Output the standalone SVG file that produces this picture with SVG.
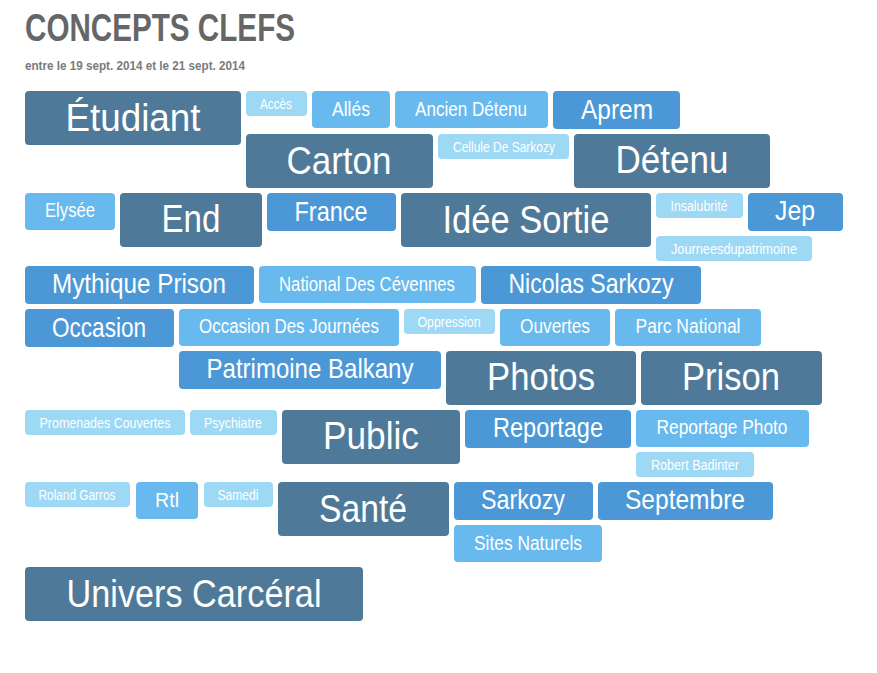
<svg xmlns="http://www.w3.org/2000/svg" width="877" height="673" viewBox="0 0 877 673">
<style>
.bg{fill:#ffffff}
.d rect{fill:#4e7999}
.m rect{fill:#4c98d7}
.l rect{fill:#68b9ee}
.v rect{fill:#9dd8f5}
text{font-family:"Liberation Sans",Arial,sans-serif;fill:#ffffff;text-anchor:middle}
.d text{font-size:39px}
.m text{font-size:28px}
.l text{font-size:20px}
.v text{font-size:14px}
.title{fill:#666666;text-anchor:start;font-size:38px;font-weight:bold}
.sub{fill:#7a7a7a;text-anchor:start;font-size:13px;font-weight:bold}
</style>
<rect class="bg" x="0" y="0" width="877" height="673"/>
<text class="title" x="25" y="41" textLength="270" lengthAdjust="spacingAndGlyphs">CONCEPTS CLEFS</text>
<text class="sub" x="25" y="70" textLength="220" lengthAdjust="spacingAndGlyphs">entre le 19 sept. 2014 et le 21 sept. 2014</text>

<g id="etudiant" class="d"><rect x="25" y="91" width="216" height="54" rx="4"/><text x="133" y="131" textLength="135" lengthAdjust="spacingAndGlyphs">Étudiant</text></g>
<g id="acces" class="v"><rect x="246" y="91" width="61" height="25" rx="4"/><text x="276" y="109" textLength="32" lengthAdjust="spacingAndGlyphs">Accès</text></g>
<g id="alles" class="l"><rect x="312" y="91" width="78" height="37" rx="4"/><text x="351" y="116" textLength="38" lengthAdjust="spacingAndGlyphs">Allés</text></g>
<g id="ancien-detenu" class="l"><rect x="395" y="91" width="153" height="37" rx="4"/><text x="471" y="116" textLength="112" lengthAdjust="spacingAndGlyphs">Ancien Détenu</text></g>
<g id="aprem" class="m"><rect x="553" y="91" width="127" height="38" rx="4"/><text x="617" y="119" textLength="72" lengthAdjust="spacingAndGlyphs">Aprem</text></g>

<g id="carton" class="d"><rect x="246" y="134" width="187" height="54" rx="4"/><text x="339" y="174" textLength="105" lengthAdjust="spacingAndGlyphs">Carton</text></g>
<g id="cellule-de-sarkozy" class="v"><rect x="438" y="134" width="131" height="25" rx="4"/><text x="504" y="152" textLength="102" lengthAdjust="spacingAndGlyphs">Cellule De Sarkozy</text></g>
<g id="detenu" class="d"><rect x="574" y="134" width="196" height="54" rx="4"/><text x="672" y="173" textLength="113" lengthAdjust="spacingAndGlyphs">Détenu</text></g>

<g id="elysee" class="l"><rect x="25" y="193" width="90" height="37" rx="4"/><text x="70" y="217" textLength="50" lengthAdjust="spacingAndGlyphs">Elysée</text></g>
<g id="end" class="d"><rect x="120" y="193" width="142" height="54" rx="4"/><text x="191" y="232" textLength="59" lengthAdjust="spacingAndGlyphs">End</text></g>
<g id="france" class="m"><rect x="267" y="193" width="129" height="38" rx="4"/><text x="331" y="221" textLength="73" lengthAdjust="spacingAndGlyphs">France</text></g>
<g id="idee-sortie" class="d"><rect x="401" y="193" width="250" height="54" rx="4"/><text x="526" y="233" textLength="167" lengthAdjust="spacingAndGlyphs">Idée Sortie</text></g>
<g id="insalubrite" class="v"><rect x="656" y="193" width="87" height="25" rx="4"/><text x="699" y="211" textLength="57" lengthAdjust="spacingAndGlyphs">Insalubrité</text></g>
<g id="jep" class="m"><rect x="748" y="193" width="95" height="38" rx="4"/><text x="795" y="220" textLength="40" lengthAdjust="spacingAndGlyphs">Jep</text></g>
<g id="journeesdupatrimoine" class="v"><rect x="656" y="236" width="156" height="25" rx="4"/><text x="734" y="254" textLength="126" lengthAdjust="spacingAndGlyphs">Journeesdupatrimoine</text></g>

<g id="mythique-prison" class="m"><rect x="25" y="266" width="229" height="38" rx="4"/><text x="139" y="293" textLength="174" lengthAdjust="spacingAndGlyphs">Mythique Prison</text></g>
<g id="national-des-cevennes" class="l"><rect x="259" y="266" width="217" height="37" rx="4"/><text x="367" y="291" textLength="176" lengthAdjust="spacingAndGlyphs">National Des Cévennes</text></g>
<g id="nicolas-sarkozy" class="m"><rect x="481" y="266" width="220" height="38" rx="4"/><text x="591" y="293" textLength="165" lengthAdjust="spacingAndGlyphs">Nicolas Sarkozy</text></g>

<g id="occasion" class="m"><rect x="25" y="309" width="149" height="38" rx="4"/><text x="99" y="337" textLength="94" lengthAdjust="spacingAndGlyphs">Occasion</text></g>
<g id="occasion-des-journees" class="l"><rect x="179" y="309" width="220" height="37" rx="4"/><text x="289" y="333" textLength="180" lengthAdjust="spacingAndGlyphs">Occasion Des Journées</text></g>
<g id="oppression" class="v"><rect x="404" y="309" width="91" height="25" rx="4"/><text x="449" y="327" textLength="63" lengthAdjust="spacingAndGlyphs">Oppression</text></g>
<g id="ouvertes" class="l"><rect x="500" y="309" width="110" height="37" rx="4"/><text x="555" y="333" textLength="70" lengthAdjust="spacingAndGlyphs">Ouvertes</text></g>
<g id="parc-national" class="l"><rect x="615" y="309" width="146" height="37" rx="4"/><text x="688" y="333" textLength="105" lengthAdjust="spacingAndGlyphs">Parc National</text></g>

<g id="patrimoine-balkany" class="m"><rect x="179" y="351" width="262" height="38" rx="4"/><text x="310" y="378" textLength="207" lengthAdjust="spacingAndGlyphs">Patrimoine Balkany</text></g>
<g id="photos" class="d"><rect x="446" y="351" width="190" height="54" rx="4"/><text x="541" y="390" textLength="108" lengthAdjust="spacingAndGlyphs">Photos</text></g>
<g id="prison" class="d"><rect x="641" y="351" width="181" height="54" rx="4"/><text x="731" y="390" textLength="98" lengthAdjust="spacingAndGlyphs">Prison</text></g>

<g id="promenades-couvertes" class="v"><rect x="25" y="410" width="160" height="25" rx="4"/><text x="105" y="428" textLength="131" lengthAdjust="spacingAndGlyphs">Promenades Couvertes</text></g>
<g id="psychiatre" class="v"><rect x="190" y="410" width="87" height="25" rx="4"/><text x="233" y="428" textLength="58" lengthAdjust="spacingAndGlyphs">Psychiatre</text></g>
<g id="public" class="d"><rect x="282" y="410" width="178" height="54" rx="4"/><text x="371" y="449" textLength="96" lengthAdjust="spacingAndGlyphs">Public</text></g>
<g id="reportage" class="m"><rect x="465" y="410" width="166" height="38" rx="4"/><text x="548" y="437" textLength="110" lengthAdjust="spacingAndGlyphs">Reportage</text></g>
<g id="reportage-photo" class="l"><rect x="636" y="410" width="173" height="37" rx="4"/><text x="722" y="434" textLength="131" lengthAdjust="spacingAndGlyphs">Reportage Photo</text></g>
<g id="robert-badinter" class="v"><rect x="636" y="452" width="118" height="25" rx="4"/><text x="695" y="470" textLength="88" lengthAdjust="spacingAndGlyphs">Robert Badinter</text></g>

<g id="roland-garros" class="v"><rect x="25" y="482" width="105" height="25" rx="4"/><text x="77" y="500" textLength="77" lengthAdjust="spacingAndGlyphs">Roland Garros</text></g>
<g id="rtl" class="l"><rect x="136" y="482" width="62" height="37" rx="4"/><text x="167" y="507" textLength="24" lengthAdjust="spacingAndGlyphs">Rtl</text></g>
<g id="samedi" class="v"><rect x="204" y="482" width="69" height="25" rx="4"/><text x="238" y="500" textLength="41" lengthAdjust="spacingAndGlyphs">Samedi</text></g>
<g id="sante" class="d"><rect x="278" y="482" width="171" height="54" rx="4"/><text x="363" y="522" textLength="88" lengthAdjust="spacingAndGlyphs">Santé</text></g>
<g id="sarkozy" class="m"><rect x="454" y="482" width="139" height="38" rx="4"/><text x="523" y="509" textLength="84" lengthAdjust="spacingAndGlyphs">Sarkozy</text></g>
<g id="septembre" class="m"><rect x="598" y="482" width="175" height="38" rx="4"/><text x="685" y="509" textLength="120" lengthAdjust="spacingAndGlyphs">Septembre</text></g>
<g id="sites-naturels" class="l"><rect x="454" y="525" width="148" height="37" rx="4"/><text x="528" y="550" textLength="108" lengthAdjust="spacingAndGlyphs">Sites Naturels</text></g>

<g id="univers-carceral" class="d"><rect x="25" y="567" width="338" height="54" rx="4"/><text x="194" y="607" textLength="255" lengthAdjust="spacingAndGlyphs">Univers Carcéral</text></g>

<g id="connectors"></g>
</svg>
